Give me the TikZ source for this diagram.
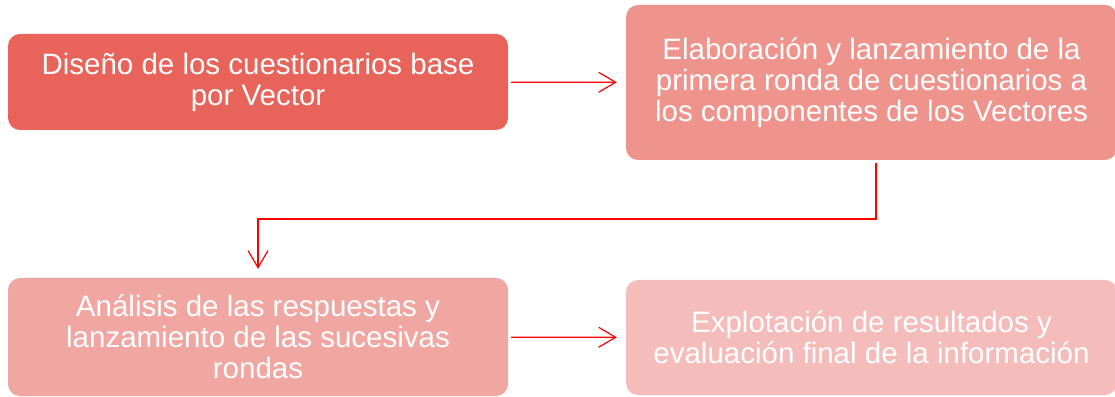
\documentclass[tikz,border=0pt]{standalone}
\usepackage{fontspec}
\setmainfont{Liberation Sans}
\usetikzlibrary{arrows.meta}
\definecolor{stepA}{HTML}{E8645A}
\definecolor{stepB}{HTML}{EE948C}
\definecolor{stepC}{HTML}{F0A7A1}
\definecolor{stepD}{HTML}{F4BDBB}
\begin{document}
\begin{tikzpicture}[x=1pt,y=1pt,
		every node/.style={font=\fontsize{29.5}{31}\selectfont},
		phase/.style={rectangle, rounded corners=12pt, text=white, align=center, inner sep=0pt},
		flow/.style={draw=red, line width=1.2pt, -{Straight Barb[length=17pt,width=20pt]}},
	]
	\useasboundingbox (0,0) rectangle (1115,396);
	\node[phase, fill=stepA, minimum width=500, minimum height=96] (P1) at (258,314) {Diseño de los cuestionarios base\\por Vector};
	\node[phase, fill=stepB, minimum width=491, minimum height=155] (P2) at (871.5,313.5) {Elaboración y lanzamiento de la\\primera ronda de cuestionarios a\\los componentes de los Vectores};
	\node[phase, fill=stepC, minimum width=500, minimum height=118] (P3) at (258,59) {Análisis de las respuestas y\\lanzamiento de las sucesivas\\rondas};
	\node[phase, fill=stepD, minimum width=491, minimum height=115] (P4) at (871.5,58.5) {Explotación de resultados y\\evaluación final de la información};
	\coordinate (bend) at (258,177);

	\draw[flow, shorten <=3pt, shorten >=9pt] (P1) -- (P2);
	\draw[flow, shorten <=3pt, shorten >=9pt] ([xshift=4.5pt]P2.south) |- (bend) -- (P3.north);
	\draw[flow, shorten <=3pt, shorten >=9pt] (P3) -- (P4);
\end{tikzpicture}
\end{document}
